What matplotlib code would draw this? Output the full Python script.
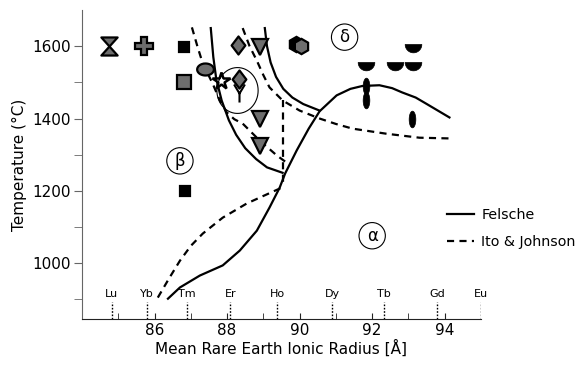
import numpy as np
import matplotlib
matplotlib.use("Agg")
import matplotlib.pyplot as plt
from matplotlib.path import Path

plt.rcParams['font.family'] = ['DejaVu Sans']

# ---------------- data ----------------
# Felsche (solid) phase boundaries
fel_a_x = [87.55, 87.62, 87.7, 87.85, 88.05, 88.25, 88.5, 88.8, 89.1, 89.53]
fel_a_y = [1650, 1570, 1510, 1450, 1395, 1355, 1318, 1288, 1265, 1250]
fel_b_x = [86.37, 86.7, 87.25, 87.88, 88.35, 88.82, 89.17, 89.45, 89.6, 89.92, 90.25, 90.55,
           91.02, 91.4, 91.73, 92.2, 92.55, 92.83, 93.2, 93.49, 94.13]
fel_b_y = [902, 933, 966, 994, 1035, 1090, 1154, 1209, 1248, 1312, 1372, 1420,
           1464, 1482, 1490, 1492, 1484, 1472, 1458, 1441, 1403]
fel_c_x = [89.04, 89.1, 89.2, 89.35, 89.55, 89.8, 90.1, 90.55]
fel_c_y = [1650, 1600, 1555, 1515, 1482, 1458, 1440, 1422]

# Ito & Johnson (dashed) boundaries
ito_a_x = [87.03, 87.18, 87.33, 87.6, 87.8, 87.99, 88.2, 88.43, 88.9, 89.37, 89.67]
ito_a_y = [1652, 1600, 1552, 1497, 1450, 1417, 1398, 1386, 1339, 1298, 1276]
ito_b_x = [88.43, 88.62, 88.82, 89.0, 89.17, 89.53, 90.0, 90.55, 91.0, 91.46, 92.39, 93.3, 94.13]
ito_b_y = [1650, 1600, 1560, 1520, 1486, 1450, 1422, 1400, 1385, 1372, 1358, 1347, 1345]
ito_v_x = [89.53, 89.53]
ito_v_y = [1450, 1210]
ito_c_x = [86.09, 86.4, 86.7, 87.0, 87.33, 87.88, 88.54, 89.0, 89.53]
ito_c_y = [905, 958, 1007, 1048, 1082, 1126, 1165, 1186, 1210]

# experimental points
hourglass_x, hourglass_y = [84.75], [1600]
plus_x, plus_y = [85.72], [1600]
smallsq_x, smallsq_y = [86.82, 86.83], [1597, 1200]
graysq_x, graysq_y = [86.82], [1500]
hellipse_x, hellipse_y = [87.38], [1537]
star_x, star_y = [87.84], [1505]
diamond_x, diamond_y = [88.3, 88.33], [1603, 1510]
funnel_x, funnel_y = [88.32], [1470]
downtri_x, downtri_y = [88.9, 88.9, 88.9], [1598, 1398, 1323]
hexblack_x, hexblack_y = [89.9], [1605]
hexgray_x, hexgray_y = [90.05], [1600]
halfdisc_x, halfdisc_y = [91.84, 92.62, 93.12, 93.12], [1555, 1555, 1555, 1605]
vellipse_x, vellipse_y = [91.82, 91.82, 93.1], [1490, 1452, 1400]
ring_x, ring_y = [88.28], [1480]

# rare earth reference radii
elements = ['Lu', 'Yb', 'Tm', 'Er', 'Ho', 'Dy', 'Tb', 'Gd', 'Eu']
element_r = [84.82, 85.8, 86.9, 88.09, 89.38, 90.9, 92.33, 93.8, 95.0]

# phase labels
phase_labels = ['δ', 'β', 'α']
phase_x = [91.24, 86.7, 92.0]
phase_y = [1625, 1283, 1076]

# ---------------- markers ----------------
hourglass = Path([(-0.45, 0.5), (0.45, 0.5), (-0.45, -0.5), (0.45, -0.5), (-0.45, 0.5)],
                 [Path.MOVETO, Path.LINETO, Path.LINETO, Path.LINETO, Path.CLOSEPOLY])
diamond = Path([(0, 0.5), (0.38, 0), (0, -0.5), (-0.38, 0), (0, 0.5)],
               [Path.MOVETO, Path.LINETO, Path.LINETO, Path.LINETO, Path.CLOSEPOLY])
t = np.linspace(0, 2 * np.pi, 60)
hell = Path(np.column_stack([0.5 * np.cos(t), 0.36 * np.sin(t)]), closed=True)
vell = Path(np.column_stack([0.2 * np.cos(t), 0.5 * np.sin(t)]), closed=True)
ring = Path(np.column_stack([0.45 * np.cos(t), 0.5 * np.sin(t)]), closed=True)
th = np.linspace(np.pi, 2 * np.pi, 30)
half = Path(np.vstack([np.column_stack([0.5 * np.cos(th), 0.5 * np.sin(th)]), [[-0.5, 0]]]), closed=True)
funnel = Path([(-0.3, 0.5), (0.0, 0.0), (0.3, 0.5), (0.0, 0.0), (0.0, -0.5)],
              [Path.MOVETO, Path.LINETO, Path.LINETO, Path.MOVETO, Path.LINETO])

gray = '#6e6e6e'

fig = plt.figure(figsize=(5.87, 3.65), dpi=100)
ax = fig.add_axes([0.1397, 0.1252, 0.6797, 0.8474])

lw = 1.6
ax.plot(fel_a_x, fel_a_y, color='black', lw=lw, label='Felsche')
ax.plot(fel_b_x, fel_b_y, color='black', lw=lw)
ax.plot(fel_c_x, fel_c_y, color='black', lw=lw)
dash = (0, (3.2, 2.4))
ax.plot(ito_a_x, ito_a_y, color='black', lw=lw, ls=dash, label='Ito & Johnson')
ax.plot(ito_b_x, ito_b_y, color='black', lw=lw, ls=dash)
ax.plot(ito_v_x, ito_v_y, color='black', lw=lw, ls=dash)
ax.plot(ito_c_x, ito_c_y, color='black', lw=lw, ls=dash)

mk = dict(ls='none', mec='black', mew=1.6)
ax.plot(hourglass_x, hourglass_y, marker=hourglass, ms=13, mfc=gray, **mk)
ax.plot(plus_x, plus_y, marker='P', ms=12.5, mfc=gray, **mk)
ax.plot(smallsq_x, smallsq_y, marker='s', ms=6.5, mfc='black', **mk)
ax.plot(graysq_x, graysq_y, marker='s', ms=10, mfc=gray, **mk)
ax.plot(hellipse_x, hellipse_y, marker=hell, ms=12, mfc=gray, **mk)
ax.plot(star_x, star_y, marker='*', ms=13, mfc='white', ls='none', mec='black', mew=1.8)
ax.plot(diamond_x, diamond_y, marker=diamond, ms=13, mfc=gray, **mk)
ax.plot(funnel_x, funnel_y, marker=funnel, ms=13, mfc='none', ls='none', mec='black', mew=1.5)
ax.plot(downtri_x, downtri_y, marker='v', ms=11, mfc=gray, **mk)
ax.plot(hexblack_x, hexblack_y, marker='h', ms=11, mfc='black', **mk)
ax.plot(hexgray_x, hexgray_y, marker='h', ms=11, mfc=gray, **mk)
ax.plot(halfdisc_x, halfdisc_y, marker=half, ms=12, mfc='black', ls='none', mec='black', mew=0.5)
ax.plot(vellipse_x, vellipse_y, marker=vell, ms=12, mfc='black', ls='none', mec='black', mew=0.5)
ax.plot(ring_x, ring_y, marker=ring, ms=33, mfc='none', ls='none', mec='black', mew=0.8)

ax.set_xlim(84, 95)
ax.set_ylim(845, 1700)

for name, r in zip(elements, element_r):
    ax.plot([r, r], [845, 892], color='black', lw=1.0, ls=(0, (1.2, 1.2)))
    ax.text(r, 900, name, ha='center', va='bottom', fontsize=8)

for lab, x, y in zip(phase_labels, phase_x, phase_y):
    ax.text(x, y, lab, ha='center', va='center', fontsize=12,
            bbox=dict(boxstyle='circle,pad=0.25', fc='white', ec='black', lw=0.8))

ax.spines['top'].set_visible(False)
ax.spines['right'].set_visible(False)
ax.spines['left'].set_color('#666666')
ax.spines['bottom'].set_color('#222222')

ax.set_xticks(np.arange(85, 95, 1), minor=True)
ax.set_xticks([86, 88, 90, 92, 94])
ax.tick_params(axis='x', which='both', direction='in', length=4, labelsize=11, pad=3, color='#222222')
ax.set_yticks([1000, 1200, 1400, 1600])
ax.set_yticks([900, 1100, 1300, 1500], minor=True)
ax.tick_params(axis='y', which='both', direction='out', length=6, labelsize=11, pad=2, color='#666666')

ax.set_xlabel('Mean Rare Earth Ionic Radius [Å]', fontsize=11, labelpad=1)
ax.set_ylabel('Temperature (°C)', fontsize=11, labelpad=4)

ax.legend(loc='center left', bbox_to_anchor=(0.915, 0.2936), frameon=False, fontsize=10.3,
          handlelength=1.9, handletextpad=0.5, labelspacing=0.9, borderaxespad=0.0, borderpad=0.0)

fig.savefig('out.png', dpi=100)
